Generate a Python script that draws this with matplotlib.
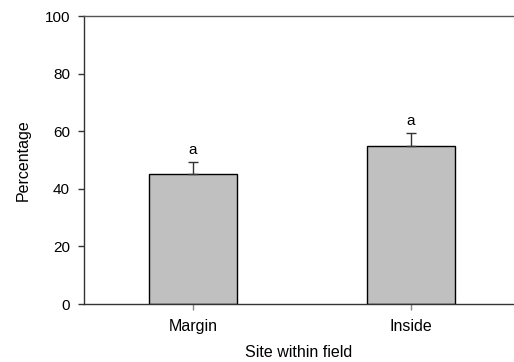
import numpy as np
import matplotlib.pyplot as plt

plt.rcParams['font.family'] = ['Liberation Sans', 'DejaVu Sans']

sites = ["Margin", "Inside"]
percent = [45.0, 55.0]
err_up = [4.4, 4.4]
letters = ["a", "a"]

fig = plt.figure(figsize=(5.14, 3.62), dpi=100)
ax = fig.add_axes([0.1634, 0.1602, 0.8366, 0.7956])

x = np.arange(len(sites))
ax.bar(x, percent, width=0.4, color='#c0c0c0', edgecolor='black', linewidth=1, zorder=2)
ax.errorbar(x, percent, yerr=[np.zeros(len(err_up)), err_up], fmt='none',
            ecolor='#333333', elinewidth=1, capsize=3.3, capthick=1, zorder=3)
for xi, p, e, lab in zip(x, percent, err_up, letters):
    ax.text(xi, p + e + 1.8, lab, ha='center', va='bottom', fontsize=11)

ax.set_xlim(-0.5, 1.472)
ax.set_ylim(0, 100)
ax.set_yticks([0, 20, 40, 60, 80, 100])
ax.set_xticks(x)
ax.set_xticklabels(sites)
ax.tick_params(axis='y', direction='out', length=4, width=1, colors='#333333', labelcolor='black', labelsize=11, pad=6)
ax.tick_params(axis='x', direction='out', length=4, width=1, colors='#888888', labelcolor='black', labelsize=11.5, pad=7)
ax.set_ylabel("Percentage", fontsize=11.5, labelpad=10)
ax.set_xlabel("Site within field", fontsize=11.5, labelpad=8)

ax.spines['right'].set_visible(False)
for s in ['left', 'bottom', 'top']:
    ax.spines[s].set_color('#333333')
    ax.spines[s].set_linewidth(1)
ax.spines['top'].set_color('#555555')

fig.savefig("out.png", dpi=100)
